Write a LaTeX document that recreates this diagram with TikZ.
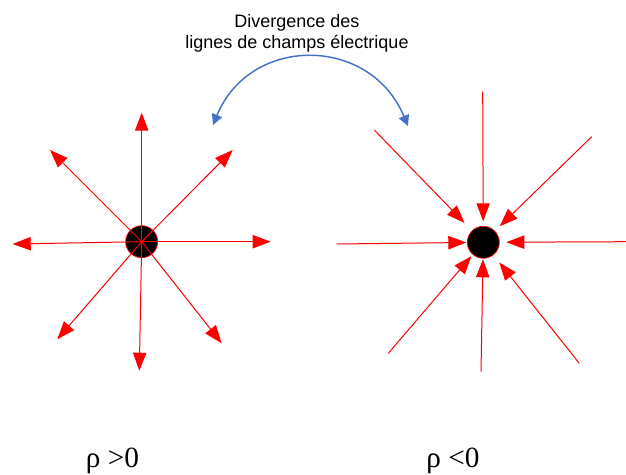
\documentclass[tikz,border=0pt]{standalone}
\usepackage{fontspec}
\setmainfont{Liberation Sans}
\newfontfamily\rhofont{Liberation Serif}
\usetikzlibrary{arrows.meta}
\definecolor{rouge}{HTML}{FF0000}
\definecolor{bleu}{HTML}{4472C4}
\tikzset{
  champ/.style={-{Triangle[length=13.5pt,width=10pt]},rouge,line width=0.75pt},
  charge/.style={circle,fill=black,draw=rouge,line width=0.5pt,minimum size=24pt,inner sep=0pt},
  lien/.style={{Triangle[length=8pt,width=8pt]}-{Triangle[length=8pt,width=8pt]},bleu,line width=1.1pt},
  rho/.style={font=\rhofont\fontsize{22}{26}\selectfont,anchor=base,inner sep=0pt},
}
\begin{document}
\begin{tikzpicture}[x=0.75pt,y=-0.75pt]
  \useasboundingbox (0,0) rectangle (626,475);
  % titre
  \node[align=center,font=\fontsize{13.5}{15.75}\selectfont] (titre) at (297,33)
    {Divergence des\\lignes de champs électrique};
  % charge positive : lignes sortantes
  \node[charge] (pos) at (141.7,241.7) {};
  \foreach \n/\x/\y in {a/141.7/112.7, b/50/150, c/232.7/150, d/12.7/244,
                        e/270.7/241.7, f/57.3/339.3, g/139.3/370.7, h/221.7/343.3}{
    \coordinate (p\n) at (\x,\y);
    \draw[champ] (pos.center) -- (p\n);
  }
  % charge negative : lignes entrantes
  \node[charge] (neg) at (483.3,242.3) {};
  \foreach \n/\x/\y/\s in {a/374.3/130/8, b/482.7/91.7/3.5, c/591.7/136.7/5,
                           d/336.7/244/0.5, e/626/241.7/5, f/388.3/353.3/1.5,
                           g/481/371.7/0.5, h/579.3/363.3/7}{
    \coordinate (n\n) at (\x,\y);
    \draw[champ,shorten >=\s pt] (n\n) -- (neg);
  }
  % fleche courbe
  \coordinate (ga) at (213,125);
  \coordinate (dr) at (408,126);
  \draw[lien] (ga) .. controls (250,35) and (370,35) .. (dr);
  % densites
  \node[rho] (rhopos) at (112.5,467) {ρ >0};
  \node[rho] (rhoneg) at (453,467) {ρ <0};
\end{tikzpicture}
\end{document}
